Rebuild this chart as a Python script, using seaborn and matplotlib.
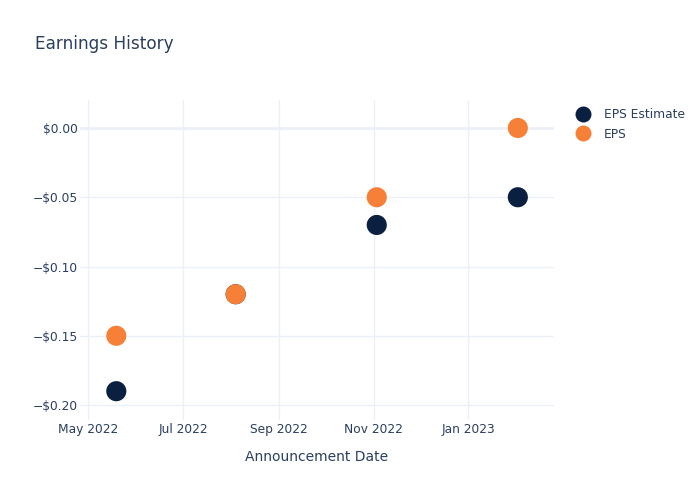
import matplotlib
matplotlib.use("Agg")
import matplotlib.pyplot as plt
import matplotlib.dates as mdates
from matplotlib.ticker import FuncFormatter
from matplotlib.lines import Line2D
import pandas as pd
import seaborn as sns

dates = ["2022-05-19", "2022-08-04", "2022-11-03", "2023-02-02"]
eps_estimate = [-0.19, -0.12, -0.07, -0.05]
eps_actual = [-0.15, -0.12, -0.05, 0.00]
series_names = ["EPS Estimate", "EPS"]
colors = ["#0b1f40", "#f68038"]
x_ticks = ["2022-05-01", "2022-07-01", "2022-09-01", "2022-11-01", "2023-01-01"]
y_ticks = [0.0, -0.05, -0.10, -0.15, -0.20]

df = pd.DataFrame({
    "date": pd.to_datetime(dates * 2),
    "value": eps_estimate + eps_actual,
    "series": [series_names[0]] * len(dates) + [series_names[1]] * len(dates),
})

sns.set_theme(style="white")
plt.rcParams["font.family"] = ["DejaVu Sans"]
text_color = "#2a3f5f"
grid_color = "#ebf0f8"

fig = plt.figure(figsize=(7, 5), dpi=100)
ax = fig.add_axes([80/700, 1 - 420/500, (554 - 80)/700, (420 - 100)/500])

ax.set_xlim(pd.Timestamp("2022-04-25 14:00"), pd.Timestamp("2023-02-25 08:00"))
ax.set_ylim(-0.2108, 0.0202)

ax.set_xticks(pd.to_datetime(x_ticks))
ax.xaxis.set_major_formatter(mdates.DateFormatter("%b %Y"))
ax.set_yticks(y_ticks)
ax.yaxis.set_major_formatter(FuncFormatter(lambda v, p: ("\u2212$%.2f" % abs(v)) if v < -1e-9 else "$%.2f" % abs(v)))

ax.grid(True, color=grid_color, linewidth=1)
ax.axhline(0, color=grid_color, linewidth=1.8, zorder=0.5)
ax.set_axisbelow(True)
for s in ax.spines.values():
    s.set_visible(False)

sns.scatterplot(data=df, x="date", y="value", hue="series", hue_order=series_names,
                palette=colors, s=210, linewidth=0, ax=ax, legend=False, zorder=3)

ax.tick_params(axis="both", length=0, labelsize=8.8, labelcolor=text_color)
ax.tick_params(axis="x", pad=2)
ax.tick_params(axis="y", pad=1.5)
ax.set_xlabel("Announcement Date", fontsize=10, color=text_color, labelpad=10.5)
ax.set_ylabel("")

fig.text(35/700, 1 - 44/500, "Earnings History", fontsize=12.2, color=text_color,
         va="center", ha="left")

handles = [Line2D([], [], marker="o", linestyle="", markersize=11.5, markerfacecolor=c,
                  markeredgewidth=0) for c in colors]
leg = fig.legend(handles, series_names, loc="upper left", bbox_to_anchor=(573/700, 1 - 108/500),
                 frameon=False, fontsize=8.8, labelcolor=text_color, handletextpad=0.9,
                 labelspacing=0.55, borderaxespad=0, borderpad=0, handlelength=1.6)

fig.savefig("out.png", dpi=100)
